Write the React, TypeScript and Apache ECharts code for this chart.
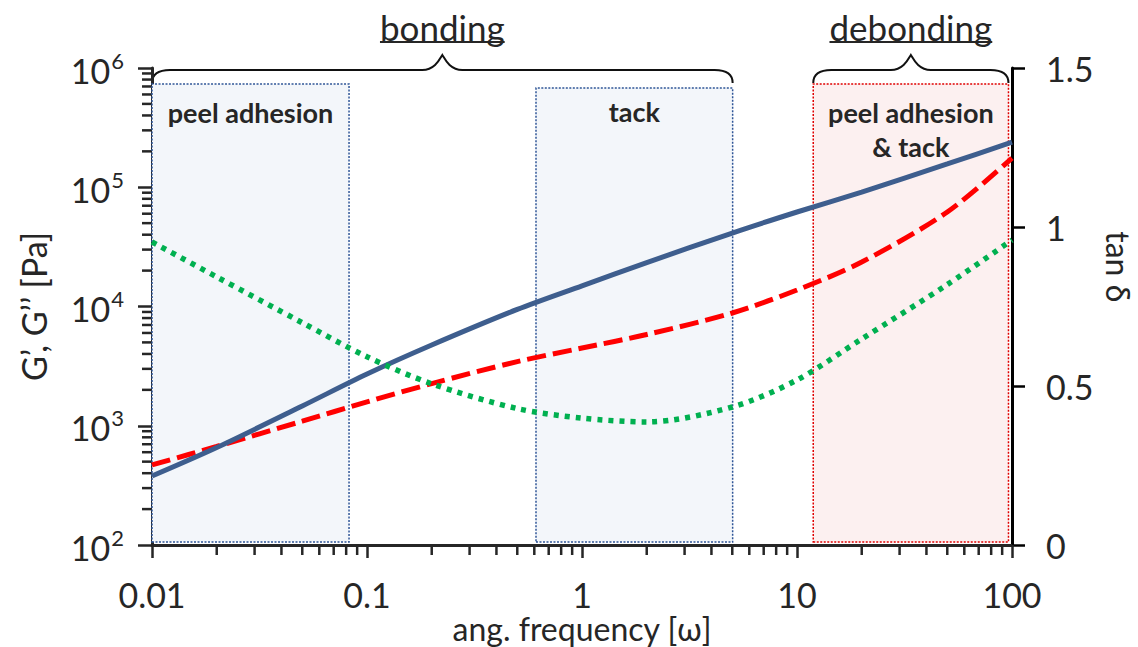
import React, { useEffect, useRef } from "react";
import * as echarts from "echarts";

// ---- data ----
const freq = [0.01, 0.02, 0.05, 0.1, 0.2, 0.5, 1, 2, 5, 10, 20, 50, 100];
const storageModulus = [379, 657, 1464, 2716, 4755, 9456, 14915, 23350, 41330, 62000, 91200, 156700, 239500];
const lossModulus = [469, 671, 1092, 1585, 2257, 3451, 4487, 5823, 8820, 13750, 23620, 62000, 175800];
const tanDelta = [0.953, 0.843, 0.699, 0.592, 0.507, 0.429, 0.399, 0.387, 0.434, 0.519, 0.648, 0.819, 0.959];
const xDecades = [0.01, 0.1, 1, 10];
const yDecades = [100, 1000, 10000, 100000];
const regionNames = ["peel adhesion", "tack", "peel adhesion\n& tack"];
const regionFrom = [0.01, 0.611, 11.9];
const regionTo = [0.0825, 5.02, 96.3];
const regionLow = [106, 106, 106];
const regionHigh = [734000, 680000, 734000];
const regionKind = ["bond", "bond", "debond"];
const phaseLabels = ["bonding", "debonding"];
const phaseFrom = [0.01, 11.9];
const phaseTo = [5.02, 96.3];
const xTitle = "ang. frequency [ω]";
const yTitle = "G’, G’’ [Pa]";
const y2Title = "tan δ";

const FONT = "Lato, 'Open Sans', sans-serif";
const AXIS = "#262626";

export default function App() {
  const ref = useRef<HTMLDivElement>(null);
  useEffect(() => {
    document.body.style.margin = "0";
    const chart = echarts.init(ref.current!, null, { renderer: "svg" });

    const areaData = regionNames.map((n, i) => {
      const bond = regionKind[i] === "bond";
      return [
        {
          name: n,
          xAxis: regionFrom[i],
          yAxis: regionLow[i],
          label: { distance: regionHigh[i] < 700000 ? 7 : 12 },
          itemStyle: {
            color: bond ? "#f3f6fa" : "#fcf0f0",
            borderColor: bond ? "#2f5597" : "#e00000",
            borderWidth: 1.5,
            borderType: [2, 1.5],
          },
        },
        { xAxis: regionTo[i], yAxis: regionHigh[i] },
      ];
    });

    const option: any = {
      animation: false,
      backgroundColor: "#ffffff",
      grid: { left: 152, right: 126, top: 68, bottom: 102, containLabel: false, outerBoundsMode: "none" },
      xAxis: {
        type: "log",
        logBase: 10,
        min: 0.01,
        max: 100,
        axisLine: { show: true, lineStyle: { color: AXIS, width: 3 } },
        axisTick: { show: true, length: 13, lineStyle: { color: AXIS, width: 2.5 } },
        axisLabel: {
          margin: 34,
          fontFamily: FONT,
          fontSize: 34,
          lineHeight: 30,
          color: AXIS,
          formatter: (v: number) => String(Number(v.toPrecision(2))),
        },
        splitLine: { show: false },
      },
      yAxis: [
        {
          type: "log",
          logBase: 10,
          min: 100,
          max: 1000000,
          name: yTitle,
          nameLocation: "middle",
          nameGap: 102,
          nameTextStyle: { fontFamily: FONT, fontSize: 34, color: AXIS },
          axisLine: { show: true, lineStyle: { color: AXIS, width: 3 } },
          axisTick: { show: true, length: 14, lineStyle: { color: AXIS, width: 2.5 } },
          axisLabel: {
            margin: 28,
            fontFamily: FONT,
            color: AXIS,
            formatter: (v: number) => `{b|10}{s|${Math.round(Math.log10(v))}}`,
            rich: {
              b: { fontFamily: FONT, fontSize: 34, color: AXIS, lineHeight: 38, verticalAlign: "bottom" },
              s: { fontFamily: FONT, fontSize: 22, color: AXIS, lineHeight: 38, verticalAlign: "top", padding: [0, 0, 12, 1] },
            },
          },
          splitLine: { show: false },
        },
        {
          type: "value",
          min: 0,
          max: 1.5,
          interval: 0.5,
          position: "right",
          axisLine: { show: true, lineStyle: { color: "#000000", width: 3 } },
          axisTick: { show: true, length: 13, lineStyle: { color: "#000000", width: 2.5 } },
          axisLabel: {
            margin: 34,
            fontFamily: FONT,
            fontSize: 34,
            color: AXIS,
            formatter: (v: number) => String(v),
          },
          splitLine: { show: false },
        },
      ],
      series: [
        {
          type: "line",
          name: "regions",
          data: [],
          z: 1,
          silent: true,
          markArea: {
            silent: true,
            label: {
              show: true,
              position: "insideTop",
              distance: 12,
              fontFamily: FONT,
              fontSize: 27,
              fontWeight: "bold",
              color: AXIS,
              lineHeight: 34,
            },
            data: areaData,
          },
        },
        {
          type: "line",
          name: "G''",
          data: freq.map((f, i) => [f, lossModulus[i]]),
          yAxisIndex: 0,
          smooth: 0.3,
          showSymbol: false,
          z: 2,
          lineStyle: { color: "#ff0000", width: 5, type: [19, 7] },
        },
        {
          type: "line",
          name: "G'",
          data: freq.map((f, i) => [f, storageModulus[i]]),
          yAxisIndex: 0,
          smooth: 0.3,
          showSymbol: false,
          z: 3,
          lineStyle: { color: "#3e5e8e", width: 5 },
        },
        {
          type: "line",
          name: "tan δ",
          data: freq.map((f, i) => [f, tanDelta[i]]),
          yAxisIndex: 1,
          smooth: 0.3,
          showSymbol: false,
          z: 4,
          lineStyle: { color: "#00b050", width: 5.5, type: [5, 6] },
        },
      ],
    };
    chart.setOption(option);

    const px = (v: number) => chart.convertToPixel({ xAxisIndex: 0 }, v) as number;
    const pyL = (v: number) => chart.convertToPixel({ yAxisIndex: 0 }, v) as number;
    const pyR = (v: number) => chart.convertToPixel({ yAxisIndex: 1 }, v) as number;

    const graphics: any[] = [];
    const xAxisY = pyL(100);
    const yAxisX = px(0.01);
    const tickStyle = { stroke: AXIS, lineWidth: 2.5 };
    xDecades.forEach((d) => {
      for (let k = 2; k <= 9; k++) {
        const x = px(k * d);
        graphics.push({ type: "line", silent: true, shape: { x1: x, y1: xAxisY, x2: x, y2: xAxisY + 10 }, style: tickStyle });
      }
    });
    yDecades.forEach((d) => {
      for (let k = 2; k <= 9; k++) {
        const y = pyL(k * d);
        graphics.push({ type: "line", silent: true, shape: { x1: yAxisX - 10, y1: y, x2: yAxisX, y2: y }, style: tickStyle });
      }
    });

    const canvas = document.createElement("canvas");
    const ctx = canvas.getContext("2d")!;
    const PHASE_SIZE = 35;
    ctx.font = `${PHASE_SIZE}px ${FONT}`;

    const topY = pyL(1000000);
    phaseLabels.forEach((label, i) => {
      const x0 = px(phaseFrom[i]);
      const x1 = px(phaseTo[i]);
      const xm = (x0 + x1) / 2;
      const yf = topY + 2;
      const ye = topY + 15;
      const yt = topY - 13;
      const d =
        `M${x0} ${ye} C${x0} ${yf + 4} ${x0 + 6} ${yf} ${x0 + 18} ${yf} ` +
        `L${xm - 20} ${yf} C${xm - 8} ${yf} ${xm - 3} ${yt + 5} ${xm} ${yt} ` +
        `C${xm + 3} ${yt + 5} ${xm + 8} ${yf} ${xm + 20} ${yf} ` +
        `L${x1 - 18} ${yf} C${x1 - 6} ${yf} ${x1} ${yf + 4} ${x1} ${ye}`;
      const shapeName = `brace${i}`;
      echarts.graphic.registerShape(shapeName, echarts.graphic.extendPath(d, {}));
      graphics.push({ type: shapeName, silent: true, x: 0, y: 0, style: { fill: "none", stroke: "#111111", lineWidth: 2 } });
      graphics.push({
        type: "text",
        silent: true,
        x: xm,
        y: topY - 41,
        style: { text: label, fontFamily: FONT, fontSize: PHASE_SIZE, fill: AXIS, align: "center", verticalAlign: "middle" },
      });
      const w = ctx.measureText(label).width;
      graphics.push({
        type: "line",
        silent: true,
        shape: { x1: xm - w / 2, y1: topY - 26, x2: xm + w / 2, y2: topY - 26 },
        style: { stroke: AXIS, lineWidth: 2 },
      });
    });

    graphics.push({
      type: "text",
      silent: true,
      x: (px(0.01) + px(100)) / 2,
      y: xAxisY + 83,
      style: { text: xTitle, fontFamily: FONT, fontSize: 32, fill: AXIS, align: "center", verticalAlign: "middle" },
    });

    graphics.push({
      type: "text",
      silent: true,
      x: px(100) + 106,
      y: pyR(0.875),
      rotation: -Math.PI / 2,
      style: { text: y2Title, fontFamily: FONT, fontSize: 32, fill: AXIS, align: "center", verticalAlign: "middle" },
    });

    chart.setOption({ graphic: graphics });
    return () => chart.dispose();
  }, []);
  return <div ref={ref} style={{ width: 1138, height: 647 }} />;
}
